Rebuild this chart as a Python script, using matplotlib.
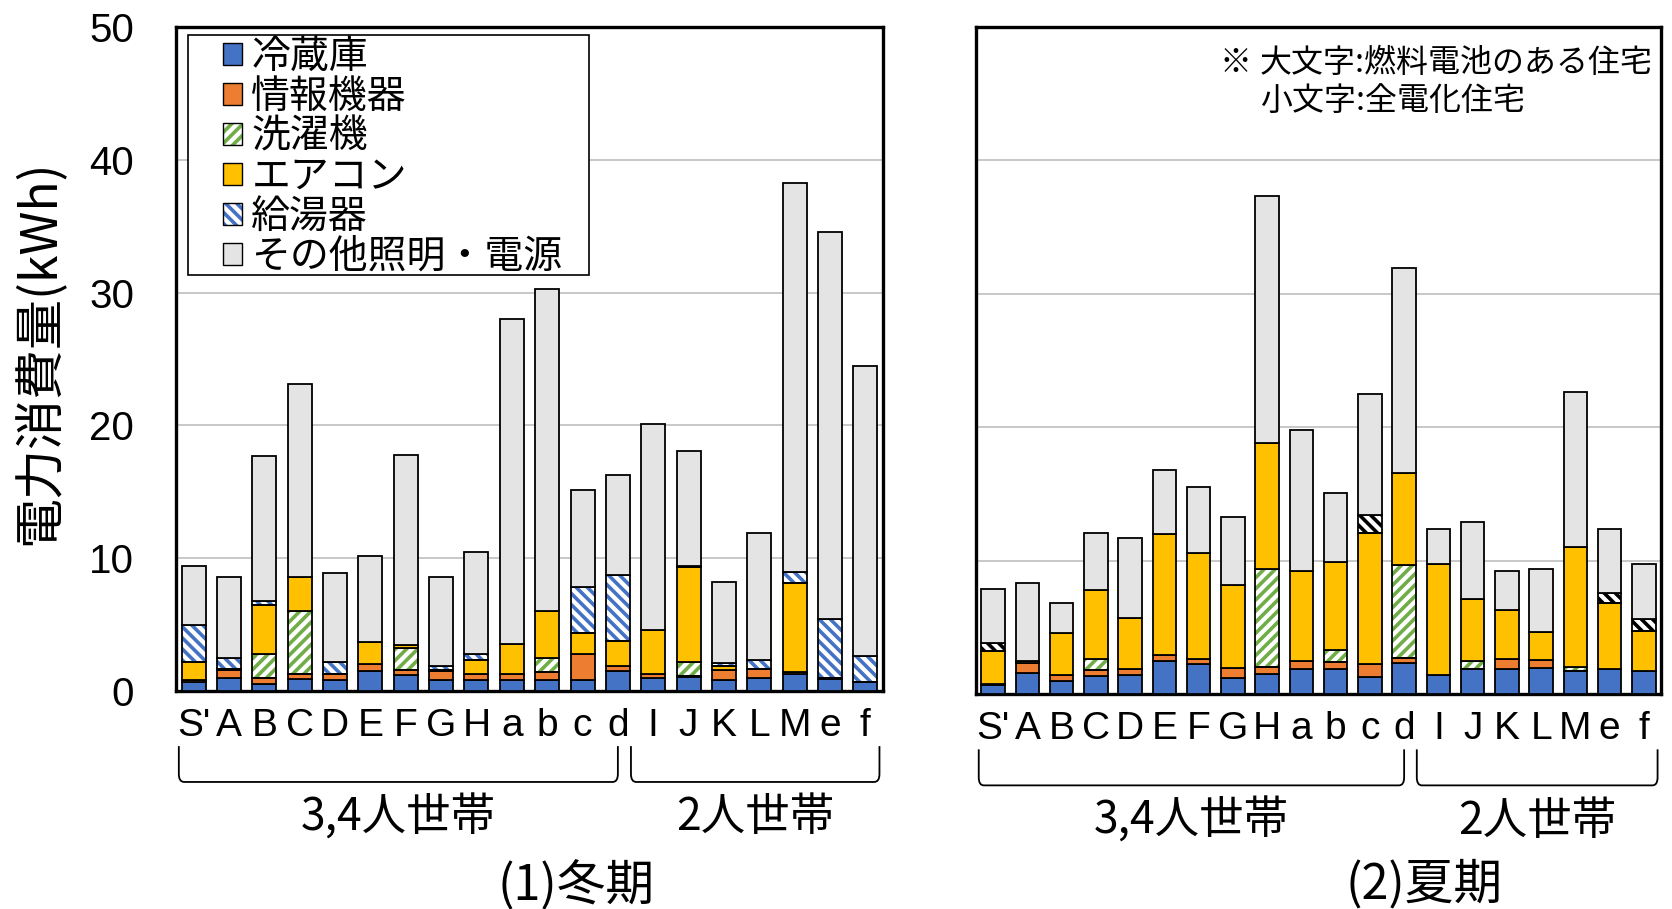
import matplotlib
matplotlib.use('Agg')
import matplotlib.pyplot as plt
from matplotlib import font_manager
from matplotlib.patches import Patch, Rectangle, PathPatch
from matplotlib.path import Path
from matplotlib.legend_handler import HandlerTuple
import matplotlib.transforms as mtransforms
import numpy as np

plt.rcParams['font.family'] = ['Noto Sans CJK JP', 'DejaVu Sans']
plt.rcParams['hatch.linewidth'] = 2.6

houses = ["S'", 'A', 'B', 'C', 'D', 'E', 'F', 'G', 'H', 'a', 'b', 'c', 'd',
          'I', 'J', 'K', 'L', 'M', 'e', 'f']
items = ['冷蔵庫', '情報機器', '洗濯機', 'エアコン', '給湯器', 'その他照明・電源']

# winter (kWh)
fridge_w = [0.7, 0.95, 0.5, 0.9, 0.8, 1.5, 1.2, 0.8, 0.8, 0.8, 0.85, 0.8, 1.5, 1.0, 1.05, 0.85, 1.0, 1.25, 0.9, 0.7]
info_w = [0.1, 0.6, 0.5, 0.4, 0.5, 0.5, 0.4, 0.7, 0.5, 0.45, 0.6, 1.95, 0.4, 0.3, 0.05, 0.75, 0.65, 0.15, 0.1, 0.0]
wash_w = [0, 0, 1.75, 4.7, 0, 0, 1.65, 0, 0, 0, 1.05, 0, 0, 0, 1.1, 0, 0, 0, 0, 0]
ac_w = [1.4, 0.1, 3.75, 2.55, 0, 1.7, 0.2, 0.05, 1.05, 2.3, 3.55, 1.65, 1.9, 3.3, 7.1, 0.25, 0, 6.7, 0, 0]
hw_w = [2.8, 0.8, 0.25, 0, 0.85, 0, 0, 0.35, 0.4, 0, 0, 3.4, 4.95, 0, 0.15, 0.25, 0.65, 0.85, 4.4, 1.9]
other_w = [4.4, 6.15, 10.95, 14.55, 6.75, 6.45, 14.35, 6.7, 7.75, 24.45, 24.25, 7.3, 7.5, 15.5, 8.65, 6.1, 9.6, 29.3, 29.2, 21.9]

# summer (kWh)
fridge_s = [0.7, 1.6, 0.95, 1.35, 1.4, 2.45, 2.25, 1.2, 1.5, 1.9, 1.85, 1.25, 2.3, 1.4, 1.9, 1.9, 1.95, 1.75, 1.85, 1.7]
info_s = [0.05, 0.75, 0.5, 0.45, 0.5, 0.5, 0.4, 0.75, 0.55, 0.6, 0.55, 1.0, 0.4, 0, 0, 0.75, 0.6, 0, 0.05, 0]
wash_s = [0, 0, 0, 0.8, 0, 0, 0, 0, 7.35, 0, 0.9, 0, 7.0, 0, 0.55, 0, 0, 0.3, 0, 0]
ac_s = [2.5, 0.1, 3.15, 5.2, 3.8, 9.05, 7.95, 6.25, 9.45, 6.75, 6.6, 9.8, 6.9, 8.35, 4.7, 3.65, 2.1, 9.0, 4.95, 3.0]
hw_s = [0.6, 0, 0, 0, 0, 0, 0, 0, 0, 0, 0, 1.4, 0, 0, 0, 0, 0, 0, 0.7, 0.95]
other_s = [4.05, 5.85, 2.2, 4.3, 6.0, 4.8, 4.9, 5.1, 18.5, 10.55, 5.2, 9.05, 15.35, 2.6, 5.75, 2.95, 4.7, 11.6, 4.8, 4.1]

c_fridge = '#4472C4'
c_info = '#ED7D31'
c_wash = '#70AD47'
c_ac = '#FFC000'
c_hw = '#4472C4'
c_other = '#E4E4E4'
h_wash = '///'
h_hw = '\\\\\\'

names = {f.name for f in font_manager.fontManager.ttflist}
narrow = 'Liberation Sans Narrow' if 'Liberation Sans Narrow' in names else 'Liberation Sans'

W, H = 1672, 909
fig = plt.figure(figsize=(W / 100, H / 100), dpi=100)
ax1 = fig.add_axes([176 / W, 1 - 691 / H, 707 / W, 664 / H])
ax2 = fig.add_axes([976 / W, 1 - 694 / H, 685 / W, 667 / H])

x = np.arange(len(houses))
bw = 0.68


def draw_stack(ax, parts, hw_color):
    bottom = np.zeros(len(houses))
    hatches = [None, None, h_wash, None, h_hw, None]
    colors = [c_fridge, c_info, c_wash, c_ac, hw_color, c_other]
    for vals, col, hat in zip(parts, colors, hatches):
        vals = np.array(vals, dtype=float)
        if hat:
            ax.bar(x, vals, bw, bottom=bottom, color='white', edgecolor=col,
                   hatch=hat, linewidth=0, zorder=2)
            ax.bar(x, vals, bw, bottom=bottom, fill=False, edgecolor='black',
                   linewidth=1.3, zorder=3)
        else:
            ax.bar(x, vals, bw, bottom=bottom, color=col, edgecolor='black',
                   linewidth=1.3, zorder=3)
        bottom += vals


def brace(ax, x0, x1, y0=-0.083, y1=-0.137):
    tr = mtransforms.blended_transform_factory(ax.transData, ax.transAxes)
    rx, ry = 0.15, 0.012
    verts = [(x0, y0), (x0, y1 + ry), (x0, y1), (x0 + rx, y1),
             (x1 - rx, y1), (x1, y1), (x1, y1 + ry), (x1, y0)]
    codes = [Path.MOVETO, Path.LINETO, Path.CURVE3, Path.CURVE3,
             Path.LINETO, Path.CURVE3, Path.CURVE3, Path.LINETO]
    ax.add_patch(PathPatch(Path(verts, codes), transform=tr, fill=False,
                           edgecolor='black', linewidth=1.3, clip_on=False))


def style(ax):
    ax.set_xlim(-0.5, len(houses) - 0.5)
    ax.set_ylim(0, 50)
    ax.set_yticks([0, 10, 20, 30, 40, 50])
    ax.yaxis.grid(True, color='#BFBFBF', linewidth=1.2)
    ax.set_axisbelow(True)
    for s in ax.spines.values():
        s.set_linewidth(2.4)
    ax.set_xticks(x, houses, fontsize=28, family=narrow)
    ax.tick_params(axis='x', length=0, pad=12)
    ax.tick_params(axis='y', length=0, pad=30, labelsize=29)
    for lab in ax.get_yticklabels():
        lab.set_family('Liberation Sans')
    tr = mtransforms.blended_transform_factory(ax.transData, ax.transAxes)
    brace(ax, -0.42, 12.0)
    brace(ax, 12.37, 19.4)
    ax.text(5.8, -0.19, '3,4人世帯', transform=tr, ha='center', va='center', fontsize=32)
    ax.text(15.9, -0.19, '2人世帯', transform=tr, ha='center', va='center', fontsize=32)


draw_stack(ax1, [fridge_w, info_w, wash_w, ac_w, hw_w, other_w], c_hw)
draw_stack(ax2, [fridge_s, info_s, wash_s, ac_s, hw_s, other_s], 'black')
style(ax1)
style(ax2)
ax2.tick_params(axis='y', labelleft=False)

fig.text(40 / W, 1 - 352 / H, '電力消費量(kWh)', rotation=90, ha='center',
         va='center', fontsize=36)
fig.text(576 / W, 1 - 885 / H, '(1)冬期', ha='center', va='center', fontsize=35)
fig.text(1424 / W, 1 - 885 / H, '(2)夏期', ha='center', va='center', fontsize=35)

# legend frame drawn separately so the swatches sit indented
ax1.add_patch(Rectangle((0.017, 0.6265), 0.567, 0.3615, transform=ax1.transAxes,
                        facecolor='white', edgecolor='black', linewidth=1.2, zorder=4))
solid = lambda c: Patch(facecolor=c, edgecolor='black', linewidth=1)
hatched = [(Patch(facecolor='white', edgecolor=c_wash, hatch=h_wash, linewidth=0),
            Patch(fill=False, edgecolor='black', linewidth=1)),
           (Patch(facecolor='white', edgecolor=c_hw, hatch=h_hw, linewidth=0),
            Patch(fill=False, edgecolor='black', linewidth=1))]
handles = [solid(c_fridge), solid(c_info), hatched[0], solid(c_ac), hatched[1], solid(c_other)]
leg = ax1.legend(handles, items, loc='upper left', bbox_to_anchor=(0.0665, 0.985),
                 frameon=False, fontsize=28, handlelength=0.48, handleheight=0.48,
                 handletextpad=0.25, labelspacing=0.0, borderpad=0, borderaxespad=0,
                 handler_map={tuple: HandlerTuple(ndivide=1, pad=0)})
leg.set_zorder(5)

ax2.text(1219 / W, 1 - 63 / H, '※', transform=fig.transFigure, ha='left', va='center', fontsize=23)
ax2.text(1260 / W, 1 - 63 / H, '大文字:燃料電池のある住宅', transform=fig.transFigure,
         ha='left', va='center', fontsize=23)
ax2.text(1260 / W, 1 - 101 / H, '小文字:全電化住宅', transform=fig.transFigure,
         ha='left', va='center', fontsize=23)

fig.savefig('out.png', dpi=100)
